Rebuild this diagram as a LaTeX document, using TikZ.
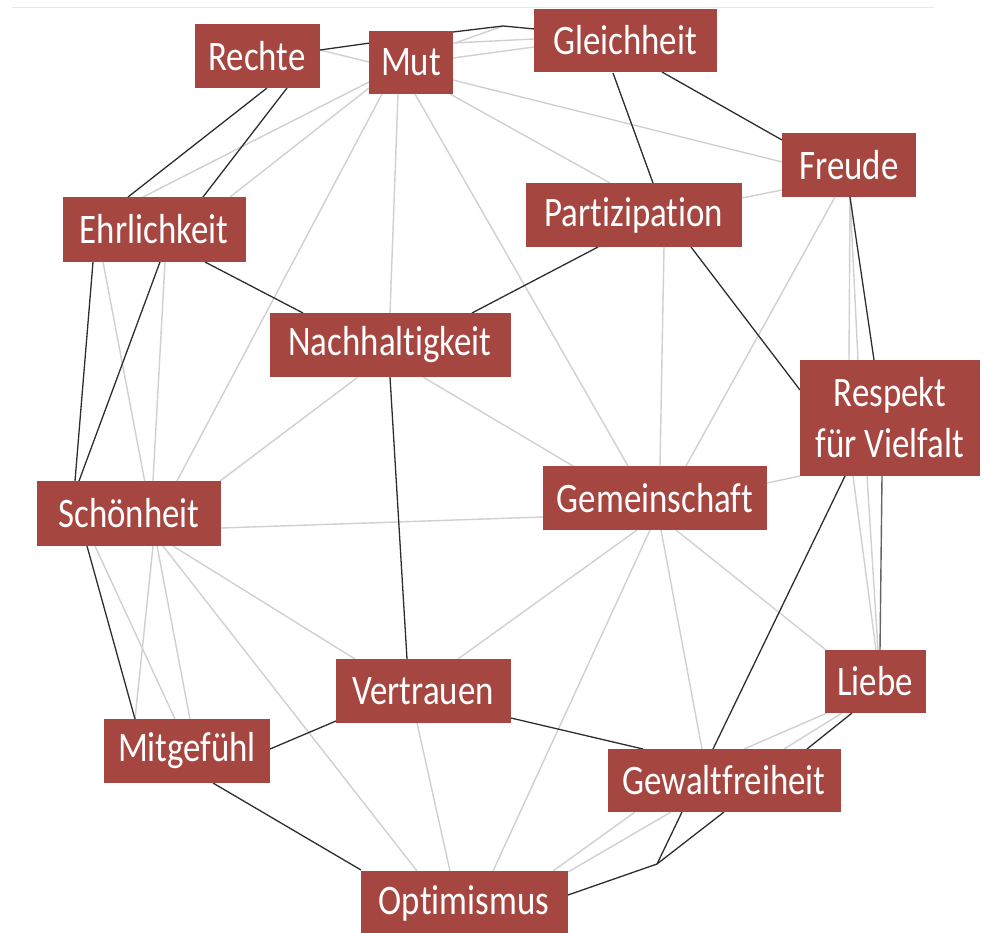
\documentclass[tikz,border=0pt]{standalone}
\usepackage{fontspec}
\setmainfont[FakeStretch=0.83,Ligatures={NoCommon}]{Carlito}
\usetikzlibrary{calc,backgrounds}
\definecolor{boxred}{RGB}{166,70,65}
\definecolor{lightedge}{RGB}{208,208,208}
\definecolor{darkedge}{RGB}{45,45,45}
\definecolor{midedge}{RGB}{100,100,100}
\definecolor{rulegray}{RGB}{232,232,232}
\begin{document}
\begin{tikzpicture}[x=1pt,y=-1pt,
  concept/.style={fill=boxred,text=white,inner sep=0pt,align=center,
    font=\fontsize{42}{51}\selectfont},
  lite/.style={draw=lightedge,line width=1.4pt},
  dark/.style={draw=darkedge,line width=1.3pt},
  middark/.style={draw=midedge,line width=1.4pt},
  toprule/.style={draw=rulegray,line width=1pt}]
\useasboundingbox (0,0) rectangle (984,932);
\clip (0,0) rectangle (984,932);
% nodes
\node[concept,minimum width=125pt,minimum height=64pt] (rechte) at (257,56) {Rechte};
\node[concept,minimum width=84pt,minimum height=63pt] (mut) at (411,62) {Mut};
\node[concept,minimum width=183pt,minimum height=63pt] (gleich) at (625,40) {Gleichheit};
\node[concept,minimum width=134pt,minimum height=64pt] (freude) at (849,165) {Freude};
\node[concept,minimum width=216pt,minimum height=64pt] (partiz) at (634,215) {Partizipation};
\node[concept,minimum width=183pt,minimum height=65pt] (ehr) at (154,229) {Ehrlichkeit};
\node[concept,minimum width=241pt,minimum height=64pt] (nach) at (390,345) {Nachhaltigkeit};
\node[concept,minimum width=180pt,minimum height=116pt] (resp) at (890,418) {Respekt\\für Vielfalt};
\node[concept,minimum width=224pt,minimum height=64pt] (gem) at (655,498) {Gemeinschaft};
\node[concept,minimum width=184pt,minimum height=65pt] (schoen) at (129,513) {Schönheit};
\node[concept,minimum width=175pt,minimum height=64pt] (vert) at (423,691) {Vertrauen};
\node[concept,minimum width=101pt,minimum height=63pt] (liebe) at (875,681) {Liebe};
\node[concept,minimum width=166pt,minimum height=64pt] (mitg) at (187,751) {Mitgefühl};
\node[concept,minimum width=233pt,minimum height=63pt] (gewalt) at (724,780) {Gewaltfreiheit};
\node[concept,minimum width=207pt,minimum height=64pt] (opt) at (464,903) {Optimismus};
\coordinate (bendA) at (503,26);
\coordinate (bendB) at (657,864);
\coordinate (ruleL) at (12,7);
\coordinate (ruleR) at (934,7);
\begin{scope}[on background layer]
\draw[toprule] (ruleL) -- (ruleR);
% light connectors
\draw[lite] ($(rechte)+(63,-6)$) -- ($(mut)+(-42,0)$);
\draw[lite] ($(mut)+(44,-19)$) -- (bendA);
\draw[lite] ($(mut)+(42,-19)$) -- ($(gleich)+(-91,-1)$);
\draw[lite] ($(mut)+(42,-4)$) -- ($(gleich)+(-91,7)$);
\draw[lite] ($(mut)+(42,18)$) -- ($(freude)+(-67,-3)$);
\draw[lite] ($(mut)+(39,32)$) -- ($(partiz)+(-24,-32)$);
\draw[lite] ($(mut)+(4,32)$) -- ($(gem)+(-27,-32)$);
\draw[lite] ($(mut)+(-13,32)$) -- ($(nach)+(0,-32)$);
\draw[lite] ($(mut)+(-29,32)$) -- ($(schoen)+(48,-32)$);
\draw[lite] ($(mut)+(-42,20)$) -- ($(ehr)+(-11,-32)$);
\draw[lite] ($(mut)+(-42,26)$) -- ($(ehr)+(76,-32)$);
\draw[lite] ($(partiz)+(108,-17)$) -- ($(freude)+(-67,25)$);
\draw[lite] ($(freude)+(-14,32)$) -- ($(gem)+(31,-32)$);
\draw[lite] ($(freude)+(1,32)$) -- ($(resp)+(-41,-58)$);
\draw[lite] ($(freude)+(1,32)$) -- ($(resp)+(-32,-58)$);
\draw[lite] ($(partiz)+(30,32)$) -- ($(gem)+(5,-32)$);
\draw[lite] ($(resp)+(-90,58)$) -- ($(gem)+(112,-15)$);
\draw[lite] ($(nach)+(33,32)$) -- ($(gem)+(-82,-32)$);
\draw[lite] ($(nach)+(-32,32)$) -- ($(schoen)+(91,-32)$);
\draw[lite] ($(schoen)+(92,15)$) -- ($(gem)+(-112,19)$);
\draw[lite] ($(ehr)+(-51,33)$) -- ($(mitg)+(3,-32)$);
\draw[lite] ($(ehr)+(11,33)$) -- ($(schoen)+(24,-32)$);
\draw[lite] ($(schoen)+(-34,33)$) -- ($(mitg)+(-12,-32)$);
\draw[lite] ($(schoen)+(24,33)$) -- ($(mitg)+(-52,-32)$);
\draw[lite] ($(schoen)+(44,33)$) -- ($(vert)+(-68,-32)$);
\draw[lite] ($(schoen)+(34,33)$) -- ($(opt)+(-47,-32)$);
\draw[lite] ($(vert)+(-6,32)$) -- ($(opt)+(-14,-32)$);
\draw[lite] ($(gem)+(-18,32)$) -- ($(vert)+(35,-32)$);
\draw[lite] ($(gem)+(-5,32)$) -- ($(opt)+(29,-32)$);
\draw[lite] ($(gem)+(6,32)$) -- ($(gewalt)+(-22,-31)$);
\draw[lite] ($(gem)+(21,32)$) -- ($(liebe)+(-49,-31)$);
\draw[lite] ($(resp)+(-37,58)$) -- ($(liebe)+(1,-31)$);
\draw[lite] ($(resp)+(-23,58)$) -- ($(liebe)+(3,-31)$);
\draw[lite] ($(liebe)+(-48,32)$) -- ($(gewalt)+(20,-31)$);
\draw[lite] ($(liebe)+(-33,32)$) -- ($(gewalt)+(60,-31)$);
\draw[lite] ($(gewalt)+(-89,32)$) -- ($(opt)+(89,-32)$);
\draw[lite] ($(gewalt)+(-53,32)$) -- ($(opt)+(104,-31)$);
% dark connectors
\draw[dark] ($(rechte)+(63,-6)$) -- ($(mut)+(-41,-19)$);
\draw[dark] ($(mut)+(42,-30)$) -- (bendA);
\draw[dark] (bendA) -- ($(gleich)+(-90,-11)$);
\draw[dark] ($(gleich)+(37,32)$) -- ($(freude)+(-67,-25)$);
\draw[dark] ($(gleich)+(-12,33)$) -- ($(partiz)+(19,-32)$);
\draw[dark] ($(rechte)+(10,32)$) -- ($(ehr)+(-26,-32)$);
\draw[dark] ($(rechte)+(30,32)$) -- ($(ehr)+(49,-32)$);
\draw[dark] ($(ehr)+(51,33)$) -- ($(nach)+(-87,-32)$);
\draw[dark] ($(partiz)+(-36,32)$) -- ($(nach)+(82,-32)$);
\draw[dark] ($(partiz)+(57,32)$) -- ($(resp)+(-90,-28)$);
\draw[dark] ($(freude)+(1,32)$) -- ($(resp)+(-16,-58)$);
\draw[dark] ($(ehr)+(-61,33)$) -- ($(schoen)+(-54,-32)$);
\draw[dark] ($(ehr)+(6,33)$) -- ($(schoen)+(-50,-32)$);
\draw[dark] ($(nach)+(0,32)$) -- ($(vert)+(-16,-32)$);
\draw[dark] ($(resp)+(-45,58)$) -- ($(gewalt)+(-11,-31)$);
\draw[middark] ($(resp)+(-8,58)$) -- ($(liebe)+(5,-31)$);
\draw[dark] ($(schoen)+(-42,33)$) -- ($(mitg)+(-52,-32)$);
\draw[dark] ($(mitg)+(83,-2)$) -- ($(vert)+(-87,30)$);
\draw[dark] ($(vert)+(88,27)$) -- ($(gewalt)+(-81,-31)$);
\draw[dark] ($(mitg)+(26,32)$) -- ($(opt)+(-103,-33)$);
\draw[dark] ($(liebe)+(-23,32)$) -- ($(gewalt)+(83,-31)$);
\draw[dark] ($(gewalt)+(-42,32)$) -- (bendB);
\draw[dark] ($(gewalt)+(0,32)$) -- (bendB);
\draw[dark] (bendB) -- ($(opt)+(104,-8)$);
\end{scope}
\end{tikzpicture}
\end{document}
